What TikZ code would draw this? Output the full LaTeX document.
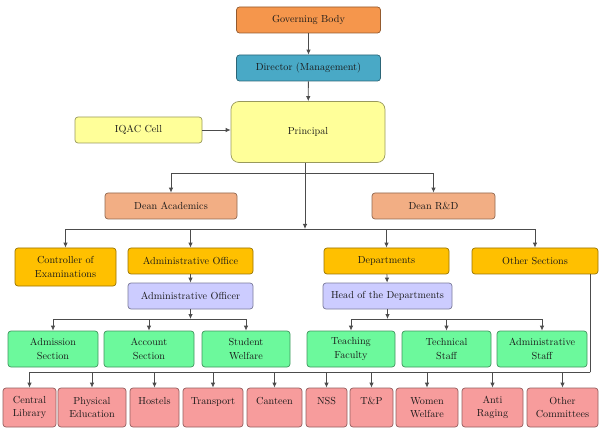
\documentclass[tikz,border=0pt]{standalone}
\usetikzlibrary{arrows.meta}
\definecolor{cGov}{HTML}{F5964C}
\definecolor{cDir}{HTML}{49A9C6}
\definecolor{cPrin}{HTML}{FFFF99}
\definecolor{cDean}{HTML}{F2AE84}
\definecolor{cLvl}{HTML}{FFC000}
\definecolor{cPur}{HTML}{CCCCFF}
\definecolor{cGrn}{HTML}{6CF99C}
\definecolor{cPnk}{HTML}{F79C9C}
\begin{document}
\begin{tikzpicture}[x=1pt,y=-1pt,
  box/.style={draw=#1!60!black, fill=#1, rounded corners=3pt, line width=0.7pt,
    inner sep=1pt, align=center, font=\rmfamily\fontsize{10.2}{13.5}\selectfont, text=black!90},
  conn/.style={draw=black!70, line width=0.8pt},
  arr/.style={conn, -{Latex[length=5pt,width=4.5pt]}}]
\useasboundingbox (0,0) rectangle (602,438);
% top
\node[box=cGov, minimum width=144pt, minimum height=26pt] (gov) at (308.5,20) {Governing Body};
\node[box=cDir, minimum width=144pt, minimum height=26pt] (dir) at (308.5,68) {Director (Management)};
\node[box=cPrin, minimum width=154pt, minimum height=61pt, rounded corners=8pt] (prin) at (308,132) {Principal};
\node[box=cPrin, minimum width=127pt, minimum height=26pt] (iqac) at (138.5,130) {IQAC Cell};
\node[box=cDean, minimum width=132pt, minimum height=26pt] (deanA) at (171,206) {Dean Academics};
\node[box=cDean, minimum width=123pt, minimum height=26pt] (deanR) at (433.5,206) {Dean R\&D};
% level 3
\node[box=cLvl, minimum width=101pt, minimum height=38pt] (ctrl) at (65.5,267) {Controller of\\Examinations};
\node[box=cLvl, minimum width=125pt, minimum height=26pt] (aoff) at (190.5,261) {Administrative Office};
\node[box=cLvl, minimum width=125pt, minimum height=26pt] (dept) at (386.5,261) {Departments};
\node[box=cLvl, minimum width=126pt, minimum height=26pt] (oth) at (535,261) {Other Sections};
\node[box=cPur, minimum width=125pt, minimum height=26pt] (aofr) at (190.5,296) {Administrative Officer};
\node[box=cPur, minimum width=129pt, minimum height=26pt] (hod) at (387.5,296) {Head of the Departments};
% green
\node[box=cGrn, minimum width=90pt, minimum height=36pt] (adm) at (53,349) {Admission\\Section};
\node[box=cGrn, minimum width=90pt, minimum height=36pt] (acc) at (149,349) {Account\\Section};
\node[box=cGrn, minimum width=88pt, minimum height=36pt] (stw) at (246,349) {Student\\Welfare};
\node[box=cGrn, minimum width=88pt, minimum height=36pt] (tf) at (351,349) {Teaching\\Faculty};
\node[box=cGrn, minimum width=89pt, minimum height=36pt] (ts) at (446.5,349) {Technical\\Staff};
\node[box=cGrn, minimum width=90pt, minimum height=36pt] (as) at (542,349) {Administrative\\Staff};
% pink
\node[box=cPnk, minimum width=53pt, minimum height=39pt] (cl) at (29.5,407.5) {Central\\Library};
\node[box=cPnk, minimum width=68pt, minimum height=39pt] (pe) at (92,407.5) {Physical\\Education};
\node[box=cPnk, minimum width=49pt, minimum height=39pt] (ho) at (154.5,407.5) {Hostels\\\mbox{}};
\node[box=cPnk, minimum width=60pt, minimum height=39pt] (tr) at (213,407.5) {Transport\\\mbox{}};
\node[box=cPnk, minimum width=55pt, minimum height=39pt] (ca) at (274.5,407.5) {Canteen\\\mbox{}};
\node[box=cPnk, minimum width=41pt, minimum height=39pt] (nss) at (326.5,407.5) {NSS\\\mbox{}};
\node[box=cPnk, minimum width=43pt, minimum height=39pt] (tp) at (371.5,407.5) {T\&P\\\mbox{}};
\node[box=cPnk, minimum width=62pt, minimum height=39pt] (ww) at (427,407.5) {Women\\Welfare};
\node[box=cPnk, minimum width=61pt, minimum height=39pt] (ar) at (492.5,407.5) {Anti\\Raging};
\node[box=cPnk, minimum width=71pt, minimum height=39pt] (oc) at (562.5,407.5) {Other\\Committees};
% junctions
\coordinate (j1) at (305,173);
\coordinate (j2) at (305,229);
\coordinate (j3) at (190.5,319);
\coordinate (j4) at (387.5,319);
\coordinate (j5) at (590,372);
% connectors
\draw[arr] (gov) -- (dir);
\draw[arr] (dir) -- (prin);
\draw[arr] (iqac.east) -- (iqac.east -| prin.west);
\draw[conn] (prin.south -| j1) -- (j1);
\draw[arr] (j1) -| (deanA.north);
\draw[arr] (j1) -| (deanR.north);
\draw[arr] (j1) -- (j2);
\draw[arr] (j2) -| (ctrl.north);
\draw[arr] (j2) -| (aoff.north);
\draw[arr] (j2) -| (dept.north);
\draw[arr] (j2) -| (oth.north);
\draw[arr] (aoff) -- (aofr);
\draw[arr] (dept) -- (hod);
\draw[arr] (aofr) -- (j3);
\draw[arr] (j3) -| (adm.north);
\draw[arr] (j3) -| (acc.north);
\draw[arr] (j3) -| (stw.north);
\draw[arr] (hod) -- (j4);
\draw[arr] (j4) -| (tf.north);
\draw[arr] (j4) -| (ts.north);
\draw[arr] (j4) -| (as.north);
\draw[conn] (oth.south -| j5) -- (j5);
\foreach \n in {cl,pe,ho,tr,ca,nss,tp,ww,ar,oc}
  \draw[arr] (j5) -| (\n.north);
\end{tikzpicture}
\end{document}
